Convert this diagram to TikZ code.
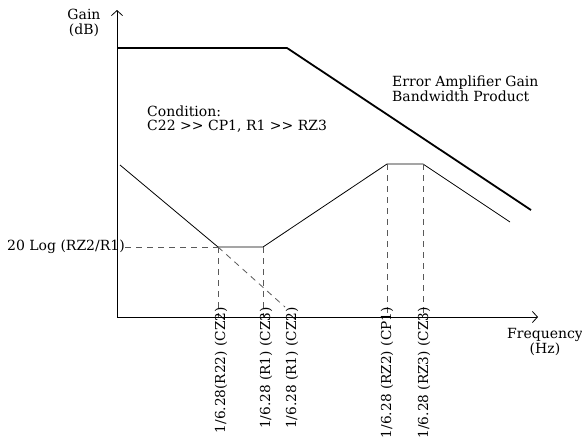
\documentclass[tikz,border=0pt]{standalone}
\usepackage{fontspec}
\setmainfont{DejaVu Serif}
\usetikzlibrary{arrows.meta,positioning}

\begin{document}
\begin{tikzpicture}[
    x=1pt, y=-1pt,
    axis/.style={-{Straight Barb[length=5pt,width=11pt]}, line width=0.8pt},
    gbw/.style={line width=1.8pt},
    resp/.style={line width=0.8pt},
    guide/.style={dash pattern=on 6pt off 5pt, black!65, line width=0.8pt},
    lbl/.style={font=\fontsize{14}{14.5}\selectfont, align=left, inner sep=0pt},
    brk/.style={font=\fontsize{13.7}{14}\selectfont, rotate=90, anchor=east, inner sep=0pt}
]
\useasboundingbox (0,0) rectangle (582,437);

% Axes
\coordinate (o) at (117,317);
\coordinate (ytop) at (117,10);
\coordinate (xend) at (538,317);
\draw[axis] (o) -- (ytop);
\draw[axis] (o) -- (xend);

% Corner points
\coordinate (g0) at (117,48);
\coordinate (g1) at (287,48);
\coordinate (g2) at (531,210);
\coordinate (r0) at (120,165);
\coordinate (z1) at (218,247);
\coordinate (z2) at (263,247);
\coordinate (p1) at (387,164);
\coordinate (p2) at (423,164);
\coordinate (r5) at (510,222);
\coordinate (zx) at (285,307);

\draw[gbw] (g0) -- (g1) -- (g2);
\draw[resp] (r0) -- (z1) -- (z2) -- (p1) -- (p2) -- (r5);

% Labels
\node[lbl, align=center] (gain) at (84,23) {Gain\\(dB)};
\node[lbl, align=center] (freq) at (545,342) {Frequency\\(Hz)};
\node[lbl, anchor=west] (gbwtxt) at (392,89) {Error Amplifier Gain\\Bandwidth Product};
\node[lbl, anchor=west] (cond) at (147,119) {Condition:\\C22 >\kern0pt> CP1, R1 >\kern0pt> RZ3};
\node[lbl, anchor=east] (midgain) at (125,247) {20 Log (RZ2/R1)};

% Guides
\draw[guide] (midgain.east) -- (z1);
\draw[guide] (z1) -- (z1 |- o);
\draw[guide] (z2) -- (z2 |- o);
\draw[guide] (z1) -- (zx);
\draw[guide] (p1) -- (p1 |- o);
\draw[guide] (p2) -- (p2 |- o);

% Break frequencies
\node[brk] (fz1) at (221,307) {1/6.28(R22) (CZ2)};
\node[brk] (fz2) at (266,307) {1/6.28 (R1) (CZ3)};
\node[brk] (fz3) at (292,307) {1/6.28 (R1) (CZ2)};
\node[brk] (fp1) at (387,307) {1/6.28 (RZ2) (CP1)};
\node[brk] (fp2) at (424,307) {1/6.28 (RZ3) (CZ3)};
\end{tikzpicture}
\end{document}
